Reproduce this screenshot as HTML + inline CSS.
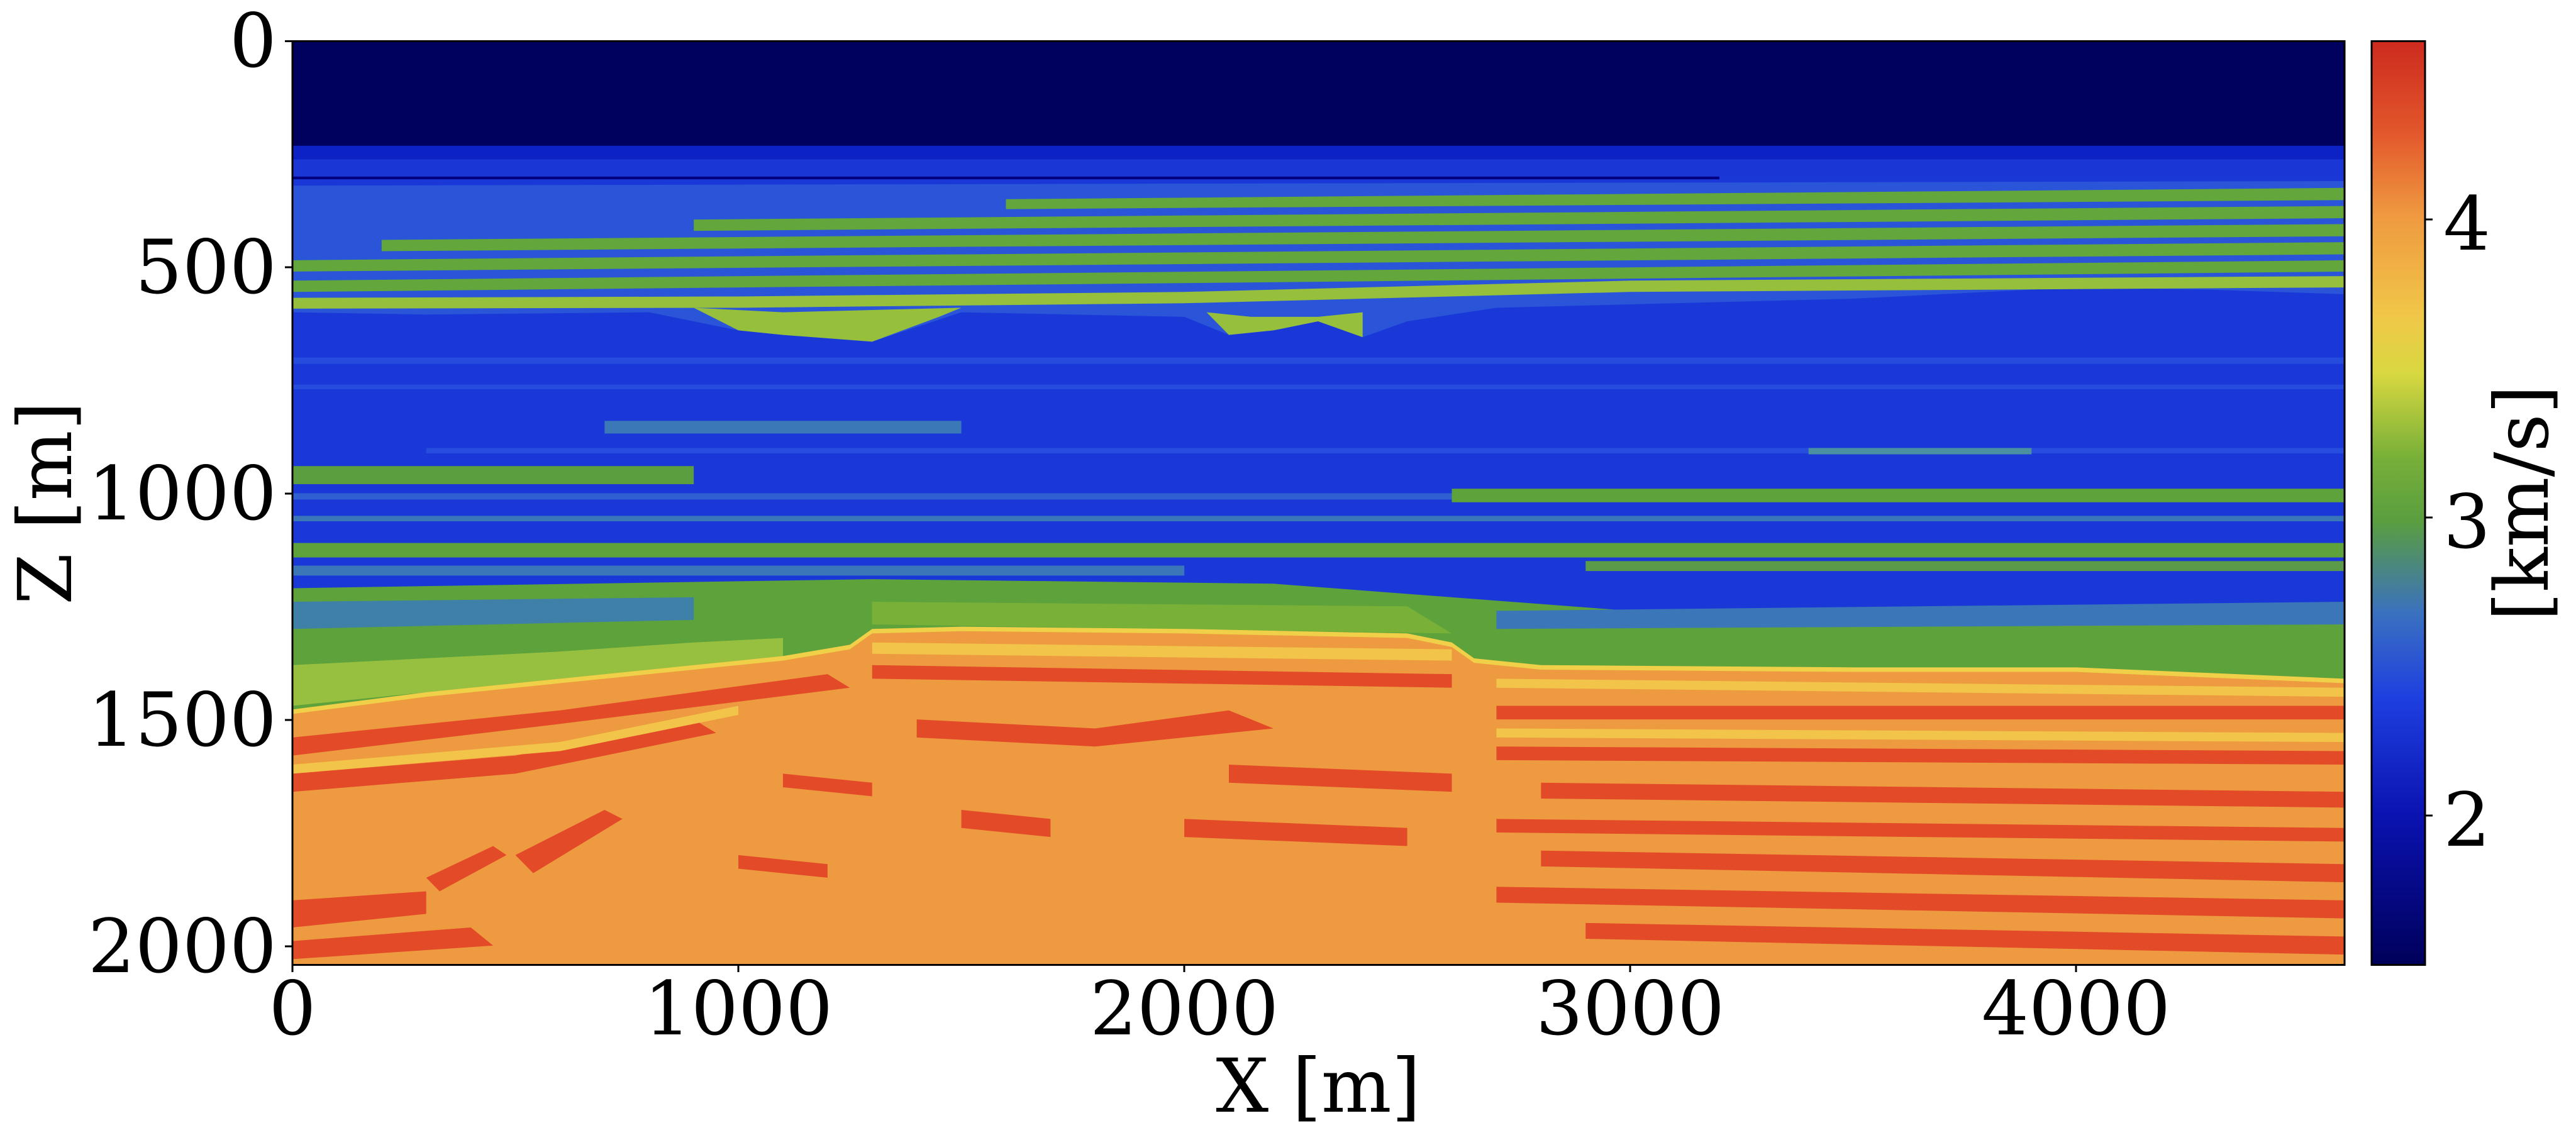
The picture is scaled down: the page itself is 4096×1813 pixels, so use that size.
<!DOCTYPE html>
<html><head><meta charset="utf-8"><style>
html,body{margin:0;padding:0;background:#fff}
body{width:4096px;height:1813px;position:relative;overflow:hidden;font-family:"DejaVu Serif","Liberation Serif",serif;color:#000}
.t{position:absolute;font-size:118px;line-height:1;white-space:nowrap}
.yl{transform:translate(-100%,-50%)}
.xl{transform:translate(-50%,0)}
</style></head><body>
<svg style="position:absolute;left:0;top:0" width="4096" height="1813">
<defs>
<linearGradient id="cb" x1="0" y1="0" x2="0" y2="1">
<stop offset="0" stop-color="#cc2a1e"/>
<stop offset="0.1" stop-color="#e3582c"/>
<stop offset="0.19" stop-color="#ef9a40"/>
<stop offset="0.3" stop-color="#f0c848"/>
<stop offset="0.36" stop-color="#d8d840"/>
<stop offset="0.45" stop-color="#78b038"/>
<stop offset="0.52" stop-color="#5a9e40"/>
<stop offset="0.62" stop-color="#3a70c0"/>
<stop offset="0.71" stop-color="#1e40e0"/>
<stop offset="0.84" stop-color="#0a12b0"/>
<stop offset="1" stop-color="#00005a"/>
</linearGradient>
</defs>
<svg x="465" y="65" width="3263" height="1469" viewBox="0 0 4602 2042" preserveAspectRatio="none">
<rect x="0" y="0" width="4602" height="2042" fill="#1a38d8"/>
<rect x="0" y="0" width="4602" height="232" fill="#00005e"/>
<rect x="0" y="232" width="4602" height="30" fill="#0c22c4"/>
<rect x="0" y="262" width="4602" height="40" fill="#1a36d4"/>
<rect x="0" y="300" width="3200" height="6" fill="#000080"/>
<!-- upper striped zone -->
<polygon fill="#2a55d8" points="0,320 4602,310 4602,560 4300,550 4000,545 3500,570 2700,590 2500,620 2400,655 2300,620 2200,640 2100,650 2000,610 1500,600 1300,665 1100,650 1000,640 800,600 300,605 0,600"/>
<g fill="#62a63c">
<polygon points="1600,350 4602,325 4602,352 1600,372"/>
<polygon points="900,395 4602,365 4602,392 900,420"/>
<polygon points="200,440 4602,405 4602,432 200,465"/>
<polygon points="0,485 4602,445 4602,472 0,510"/>
<polygon points="0,530 4602,485 4602,510 0,555"/>
</g>
<g fill="#96c03c">
<polygon points="0,568 1000,565 2000,555 3000,530 4602,520 4602,545 3000,555 2000,580 1000,590 0,592"/>
<polygon points="900,590 1100,600 1300,595 1500,590 1450,610 1300,665 1100,650 1000,640"/>
<polygon points="2050,600 2150,610 2300,610 2400,600 2400,655 2300,620 2200,640 2100,650"/>
</g>
<!-- middle -->
<g fill="#2a52e0" opacity="0.8">
<rect x="0" y="700" width="4602" height="14"/>
<rect x="0" y="760" width="4602" height="10"/>
<rect x="300" y="900" width="4300" height="12"/>
</g>
<rect x="700" y="840" width="800" height="28" fill="#3a78b8"/>
<rect x="3400" y="900" width="500" height="14" fill="#4a90a0"/>
<rect x="0" y="940" width="900" height="40" fill="#5a9e40"/>
<rect x="0" y="1000" width="4602" height="14" fill="#2f5fd0"/>
<rect x="2600" y="990" width="2002" height="30" fill="#5ea23c"/>
<rect x="0" y="1050" width="4602" height="12" fill="#3a76b8"/>
<rect x="0" y="1110" width="4602" height="32" fill="#5ea23c"/>
<rect x="2900" y="1150" width="1702" height="22" fill="#5a9a48"/>
<rect x="0" y="1160" width="2000" height="22" fill="#3a76b8"/>
<!-- green zone above interface -->
<polygon fill="#5ea23c" points="0,1210 1300,1190 2200,1200 2600,1230 3000,1260 4602,1270 4602,1440 0,1500"/>
<polygon fill="#3a76b8" points="2700,1260 4602,1240 4602,1290 2700,1300"/>
<polygon fill="#3e80a8" points="0,1240 900,1230 900,1280 0,1300"/>
<polygon fill="#98c040" points="0,1380 600,1350 900,1330 1100,1320 1100,1360 0,1470"/>
<polygon fill="#78b038" points="1300,1240 2500,1250 2600,1310 1300,1290"/>
<!-- interface & orange -->
<polygon fill="#f0d048" points="0,1478 300,1440 600,1410 900,1380 1100,1360 1250,1335 1300,1300 1500,1295 2000,1300 2500,1310 2600,1330 2650,1365 2800,1380 3500,1385 4000,1385 4602,1410 4602,2042 0,2042"/>
<polygon fill="#ee9a40" points="0,1488 300,1450 600,1420 900,1390 1100,1370 1250,1345 1300,1310 1500,1305 2000,1310 2500,1320 2600,1340 2650,1375 2800,1390 3500,1395 4000,1395 4602,1420 4602,2042 0,2042"/>
<g fill="#e34a28">
<polygon points="0,1540 600,1480 1200,1400 1250,1430 600,1510 0,1580"/>
<polygon points="0,1620 500,1580 900,1500 950,1530 500,1620 0,1660"/>
<polygon points="1300,1380 2600,1400 2600,1430 1300,1410"/>
<polygon points="1400,1500 1800,1520 2100,1480 2200,1520 1800,1560 1400,1540"/>
<polygon points="2700,1470 4602,1470 4602,1500 2700,1500"/>
<polygon points="2700,1560 4602,1570 4602,1600 2700,1590"/>
<polygon points="2800,1640 4602,1660 4602,1695 2800,1675"/>
<polygon points="2700,1720 4602,1740 4602,1770 2700,1750"/>
<polygon points="2800,1790 4602,1820 4602,1860 2800,1825"/>
<polygon points="2700,1870 4602,1900 4602,1940 2700,1905"/>
<polygon points="2900,1950 4602,1980 4602,2020 2900,1985"/>
<polygon points="2100,1600 2600,1620 2600,1660 2100,1640"/>
<polygon points="2000,1720 2500,1740 2500,1780 2000,1760"/>
<polygon points="1500,1700 1700,1720 1700,1760 1500,1740"/>
<polygon points="0,1900 300,1880 300,1930 0,1960"/>
<polygon points="0,1990 400,1960 450,2000 0,2030"/>
<polygon points="500,1800 700,1700 740,1720 540,1840"/>
<polygon points="300,1850 450,1780 480,1800 330,1880"/>
<polygon points="1100,1620 1300,1640 1300,1670 1100,1650"/>
<polygon points="1000,1800 1200,1820 1200,1850 1000,1830"/>
</g>
<g fill="#f2c44a">
<polygon points="1300,1330 2600,1345 2600,1370 1300,1355"/>
<polygon points="2700,1410 4602,1430 4602,1450 2700,1430"/>
<polygon points="0,1600 600,1550 1000,1470 1000,1490 600,1570 0,1620"/>
<polygon points="2700,1520 4602,1530 4602,1550 2700,1540"/>
</g>
</svg>
<rect x="465" y="65.5" width="3263" height="1469" fill="none" stroke="#000" stroke-width="3"/>
<rect x="3771" y="65.5" width="85" height="1469" fill="url(#cb)" stroke="#000" stroke-width="3"/>
<g stroke="#000" stroke-width="3">
<line x1="453" y1="65.5" x2="465" y2="65.5"/>
<line x1="453" y1="425" x2="465" y2="425"/>
<line x1="453" y1="785" x2="465" y2="785"/>
<line x1="453" y1="1145" x2="465" y2="1145"/>
<line x1="453" y1="1505" x2="465" y2="1505"/>
<line x1="465" y1="1534" x2="465" y2="1546"/>
<line x1="1174" y1="1534" x2="1174" y2="1546"/>
<line x1="1883" y1="1534" x2="1883" y2="1546"/>
<line x1="2592" y1="1534" x2="2592" y2="1546"/>
<line x1="3301" y1="1534" x2="3301" y2="1546"/>
<line x1="3856" y1="1297" x2="3868" y2="1297"/>
<line x1="3856" y1="823" x2="3868" y2="823"/>
<line x1="3856" y1="349" x2="3868" y2="349"/>
</g>
</svg>
<div class="t yl" style="left:440px;top:65px">0</div>
<div class="t yl" style="left:440px;top:425px">500</div>
<div class="t yl" style="left:440px;top:785px">1000</div>
<div class="t yl" style="left:440px;top:1145px">1500</div>
<div class="t yl" style="left:440px;top:1505px">2000</div>
<div class="t xl" style="left:465px;top:1545px">0</div>
<div class="t xl" style="left:1174px;top:1545px">1000</div>
<div class="t xl" style="left:1883px;top:1545px">2000</div>
<div class="t xl" style="left:2592px;top:1545px">3000</div>
<div class="t xl" style="left:3301px;top:1545px">4000</div>
<div class="t" style="left:3885px;top:1245px">2</div>
<div class="t" style="left:3885px;top:771px">3</div>
<div class="t" style="left:3885px;top:297px">4</div>
<div class="t xl" style="left:2096px;top:1668px">X [m]</div>
<div class="t" style="left:72px;top:800px;transform:translate(-50%,-50%) rotate(-90deg)">Z [m]</div>
<div class="t" style="left:4010px;top:800px;transform:translate(-50%,-50%) rotate(-90deg)">[km/s]</div>
</body></html>
